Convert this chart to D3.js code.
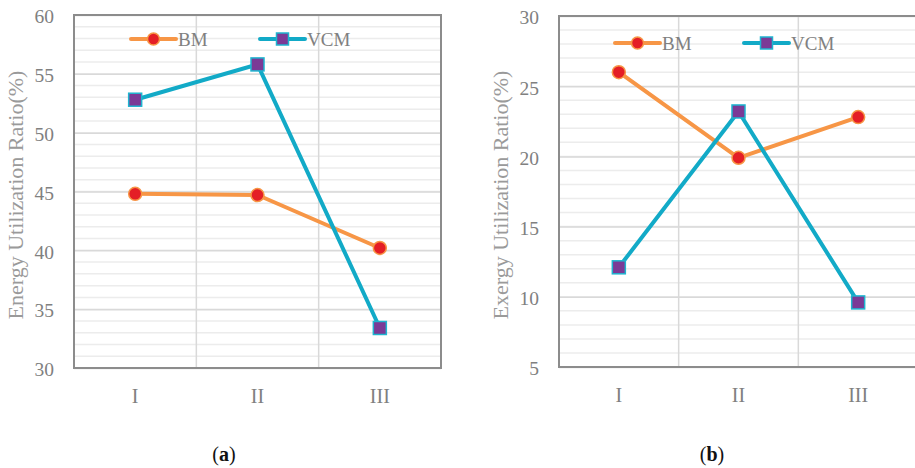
<!DOCTYPE html>
<html>
<head>
<meta charset="utf-8">
<script src="https://cdn.jsdelivr.net/npm/d3@7"></script>
<style>
  body { margin: 0; background: #fff; }
  svg { display: block; }
  text { font-family: "Liberation Serif", "DejaVu Serif", serif; }
</style>
</head>
<body>
<div id="chart"></div>
<script>
// Categories and values
const categories = ["I", "II", "III"];
const seriesNames = ["BM", "VCM"];

const energyBM = [44.8, 44.7, 40.2];
const energyVCM = [52.8, 55.8, 33.4];

const exergyBM = [26.0, 19.9, 22.8];
const exergyVCM = [12.1, 23.2, 9.6];

const energyTicks = [30, 35, 40, 45, 50, 55, 60];
const exergyTicks = [5, 10, 15, 20, 25, 30];

const svg = d3.select("#chart")
    .append("svg")
    .attr("width", 915)
    .attr("height", 468);

const orange = "#f79646";
const cyan = "#12aac7";

function drawPanel(opts) {
    const { left, right, top, bottom, domain, ticks, bm, vcm, title, caption, captionX, legendY, legendX } = opts;

    const g = svg.append("g");

    const x = d3.scaleBand()
        .domain(categories)
        .range([left, right]);

    const y = d3.scaleLinear()
        .domain(domain)
        .range([bottom, top]);

    // minor grid every 1 unit
    const minor = d3.range(domain[0], domain[1] + 1, 1);
    g.append("g")
        .selectAll("line")
        .data(minor)
        .enter()
        .append("line")
        .attr("x1", left)
        .attr("x2", right)
        .attr("y1", d => y(d))
        .attr("y2", d => y(d))
        .style("stroke", "#ececec")
        .style("stroke-width", 1.5);

    // major grid
    g.append("g")
        .attr("class", "grid")
        .attr("transform", `translate(${left},0)`)
        .call(d3.axisLeft(y).tickValues(ticks).tickSize(-(right - left)).tickFormat(""))
        .call(s => s.select(".domain").remove())
        .selectAll("line")
        .style("stroke", "#d9d9d9")
        .style("stroke-width", 1.5);

    // vertical band separators
    g.append("g")
        .selectAll("line")
        .data(categories.slice(1))
        .enter()
        .append("line")
        .attr("x1", d => x(d))
        .attr("x2", d => x(d))
        .attr("y1", top)
        .attr("y2", bottom)
        .style("stroke", "#d9d9d9")
        .style("stroke-width", 1.5);

    // plot border
    g.append("rect")
        .attr("x", left)
        .attr("y", top)
        .attr("width", right - left)
        .attr("height", bottom - top)
        .style("fill", "none")
        .style("stroke", "#8c8c8c")
        .style("stroke-width", 2);

    // y tick labels
    const yAxis = g.append("g")
        .attr("transform", `translate(${left - 20},0)`)
        .call(d3.axisLeft(y).tickValues(ticks).tickSize(0).tickPadding(0));
    yAxis.select(".domain").remove();
    yAxis.selectAll("text")
        .attr("dy", "0.4em")
        .style("font-family", "Liberation Serif, serif")
        .style("font-size", "19.5px")
        .style("fill", "#808080");

    // x tick labels
    const xAxis = g.append("g")
        .attr("transform", `translate(0,${bottom + 35})`)
        .call(d3.axisBottom(x).tickSize(0).tickPadding(0));
    xAxis.select(".domain").remove();
    xAxis.selectAll("text")
        .attr("y", 0)
        .attr("dy", "0")
        .style("font-family", "Liberation Serif, serif")
        .style("font-size", "20px")
        .style("fill", "#808080");

    // y axis title
    g.append("text")
        .attr("transform", `translate(${left - 51.5},195) rotate(-90)`)
        .attr("text-anchor", "middle")
        .style("font-size", "22px")
        .style("fill", "#9a9a9a")
        .text(title);

    // lines
    const line = d3.line()
        .x((d, i) => x(categories[i]) + x.bandwidth() / 2)
        .y(d => y(d));

    g.append("path")
        .datum(bm)
        .attr("d", line)
        .style("fill", "none")
        .style("stroke", orange)
        .style("stroke-width", 4)
        .style("stroke-linejoin", "round");

    g.append("path")
        .datum(vcm)
        .attr("d", line)
        .style("fill", "none")
        .style("stroke", cyan)
        .style("stroke-width", 4)
        .style("stroke-linejoin", "round");

    g.selectAll(".bm-dot")
        .data(bm)
        .enter()
        .append("circle")
        .attr("class", "bm-dot")
        .attr("cx", (d, i) => x(categories[i]) + x.bandwidth() / 2)
        .attr("cy", d => y(d))
        .attr("r", 6.5)
        .style("fill", "#e41e26")
        .style("stroke", orange)
        .style("stroke-width", 1.5);

    g.selectAll(".vcm-dot")
        .data(vcm)
        .enter()
        .append("rect")
        .attr("class", "vcm-dot")
        .attr("x", (d, i) => x(categories[i]) + x.bandwidth() / 2 - 6.5)
        .attr("y", d => y(d) - 6.5)
        .attr("width", 13)
        .attr("height", 13)
        .style("fill", "#7b3a96")
        .style("stroke", "#1fb4cf")
        .style("stroke-width", 1.5);

    // legend
    const legend = g.append("g")
        .attr("transform", `translate(${legendX},${legendY})`);

    seriesNames.forEach((name, i) => {
        const row = legend.append("g")
            .attr("transform", `translate(${i * 129},0)`);
        row.append("line")
            .attr("x1", 0)
            .attr("x2", 45)
            .style("stroke", i === 0 ? orange : cyan)
            .style("stroke-width", 4)
            .style("stroke-linecap", "round");
        if (i === 0) {
            row.append("circle")
                .attr("cx", 22.5)
                .attr("r", 6)
                .style("fill", "#e41e26")
                .style("stroke", orange)
                .style("stroke-width", 1.5);
        } else {
            row.append("rect")
                .attr("x", 16.5)
                .attr("y", -6)
                .attr("width", 12)
                .attr("height", 12)
                .style("fill", "#7b3a96")
                .style("stroke", "#1fb4cf")
                .style("stroke-width", 1.5);
        }
        row.append("text")
            .attr("x", 47)
            .attr("dy", "0.35em")
            .style("font-size", "19px")
            .style("fill", "#808080")
            .text(name);
    });

    // caption
    const cap = svg.append("text")
        .attr("x", captionX)
        .attr("y", 461)
        .attr("text-anchor", "middle")
        .style("font-size", "20px")
        .style("fill", "#111");
    cap.append("tspan").text("(");
    cap.append("tspan").style("font-weight", "bold").text(caption);
    cap.append("tspan").text(")");
}

drawPanel({
    left: 74, right: 441, top: 15, bottom: 368,
    domain: [30, 60], ticks: energyTicks,
    bm: energyBM, vcm: energyVCM,
    title: "Energy Utilization Ratio(%)",
    caption: "a", captionX: 224,
    legendX: 131, legendY: 39
});

drawPanel({
    left: 559, right: 918, top: 16, bottom: 367,
    domain: [5, 30], ticks: exergyTicks,
    bm: exergyBM, vcm: exergyVCM,
    title: "Exergy Utilization Ratio(%)",
    caption: "b", captionX: 712,
    legendX: 615, legendY: 43
});
</script>
</body>
</html>
